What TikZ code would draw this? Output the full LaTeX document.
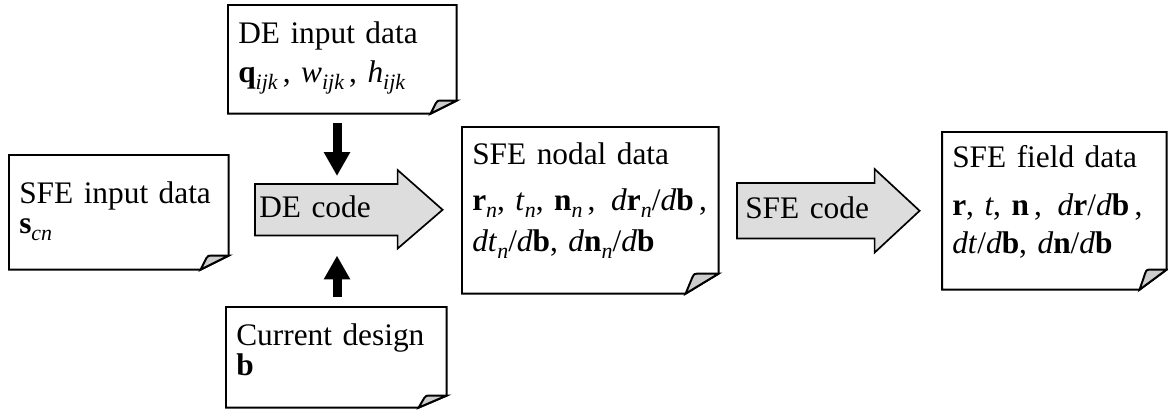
\documentclass[tikz,border=0pt]{standalone}
\usepackage{fontspec}
\setmainfont{Liberation Serif}
\usetikzlibrary{arrows.meta,calc,backgrounds}
\definecolor{arrowGray}{RGB}{221,221,221}
\definecolor{curlGray}{RGB}{205,205,205}
\newcommand{\bv}[1]{\textbf{#1}}
\newcommand{\iv}[1]{\textit{#1}}
\newcommand{\subi}[1]{\raisebox{-0.22em}{\fontsize{15.6}{15}\selectfont\itshape #1}}
% page with a curled corner: node, fold width, fold height
\newcommand{\docfold}[3]{%
  \draw[docline] (#1.north west) -- (#1.north east) -- ($(#1.south east)+(0,-#3)$)
    -- ($(#1.south east)+(-#2,0)$) -- (#1.south west) -- cycle;
  \draw[docline, fill=curlGray] ($(#1.south east)+(-#2,0)$)
    -- ($(#1.south east)+({-0.8*#2},{-0.8*#3})$)
    .. controls ($(#1.south east)+({-0.74*#2},{-1.0*#3})$) .. ($(#1.south east)+({-0.55*#2},-#3)$)
    -- ($(#1.south east)+(0,-#3)$) -- cycle;
}
% block arrow behind a code node: node, head above, head below
\newcommand{\codearrow}[3]{%
  \draw[blockarrow] (#1.north west) -- (#1.north east) -- ++(0,-#2)
    -- ($(#1.east)+(45,0)$) -- ($(#1.south east)+(0,#3)$)
    -- (#1.south east) -- (#1.south west) -- cycle;
}

\begin{document}
\begin{tikzpicture}[x=0.025cm, y=-0.025cm,
    docline/.style={line width=1.4pt},
    doc/.style={anchor=north west, inner xsep=0.25cm, inner ysep=0pt, align=left,
      font=\fontsize{22.3}{21.3}\selectfont},
    codebody/.style={anchor=north west, inner ysep=0pt, align=left,
      font=\fontsize{22.3}{21.3}\selectfont},
    blockarrow/.style={draw, line width=1.2pt, fill=arrowGray},
    fatarrow/.style={line width=6.4pt, -{Triangle[length=17pt, width=17.7pt]}}]

  \useasboundingbox (0,0) rectangle (1168,410);

  % data pages
  \node[doc, text width=5.2cm, minimum height=2.7cm] (deIn) at (228,5)
    {DE input data\\[6.4pt]
     \bv{q}\subi{ijk}\,, \iv{w}\subi{ijk}\,, \iv{h}\subi{ijk}\rule[-10.4pt]{0pt}{0pt}};
  \node[doc, text width=4.975cm, minimum height=2.85cm] (sfeIn) at (9,155)
    {SFE input data\\ \bv{s}\subi{cn}\rule[-6.9pt]{0pt}{0pt}};
  \node[doc, text width=5cm, minimum height=2.5cm] (curDes) at (226,307)
    {Current design\\ \bv{b}\rule[-11.1pt]{0pt}{0pt}};
  \node[doc, text width=5.9cm, minimum height=4.15cm] (nodal) at (462,127)
    {SFE nodal data\\[12pt]
     \mbox{\bv{r}\subi{n}, \iv{t}\subi{n}, \bv{n}\subi{n}\,,\enspace \iv{d}\bv{r}\subi{n}/\iv{d}\bv{b}\,,}\\[7.8pt]
     \mbox{\iv{dt}\subi{n}/\iv{d}\bv{b}, \iv{d}\bv{n}\subi{n}/\iv{d}\bv{b}}\rule[-18.9pt]{0pt}{0pt}};
  \node[doc, text width=5.1cm, minimum height=3.925cm] (field) at (942,132)
    {SFE field data\\[12.8pt]
     \mbox{\bv{r}, \iv{t}, \bv{n}\,,\enspace \iv{d}\bv{r}/\iv{d}\bv{b}\,,}\\[5.7pt]
     \mbox{\iv{dt}/\iv{d}\bv{b}, \iv{d}\bv{n}/\iv{d}\bv{b}}\rule[-16pt]{0pt}{0pt}};

  \docfold{deIn}{26}{13}
  \docfold{sfeIn}{28}{14}
  \docfold{curDes}{28}{12}
  \docfold{nodal}{33}{20}
  \docfold{field}{27}{20}

  % codes
  \node[codebody, inner xsep=0.1cm, text width=3.35cm, minimum height=1.275cm] (deCode) at (255,184)
    {\mbox{DE code}\rule[-4.7pt]{0pt}{0pt}};
  \node[codebody, inner xsep=0.2cm, text width=3.025cm, minimum height=1.375cm] (sfeCode) at (737,183)
    {\mbox{SFE code}\rule[-4.7pt]{0pt}{0pt}};
  \begin{scope}[on background layer]
    \codearrow{deCode}{14}{13}
    \codearrow{sfeCode}{14}{14}
  \end{scope}

  % inputs into the DE code
  \coordinate (axDE) at (337,0);
  \draw[fatarrow, shorten <=7pt, shorten >=5.7pt] (deIn.south -| axDE) -- (deCode.north -| axDE);
  \draw[fatarrow, shorten <=7pt, shorten >=14.2pt] (curDes.north -| axDE) -- (deCode.south -| axDE);
\end{tikzpicture}
\end{document}
